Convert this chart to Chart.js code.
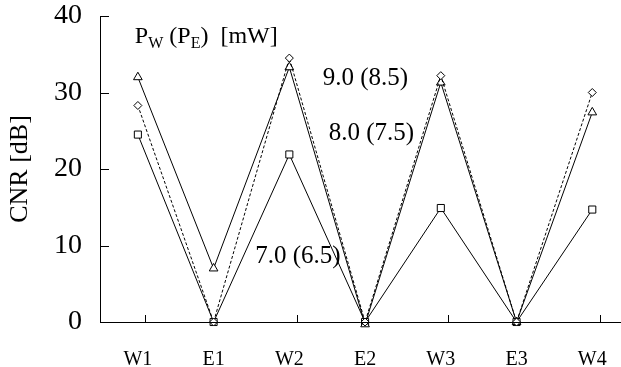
<!DOCTYPE html>
<html>
<head>
<meta charset="utf-8">
<script src="https://cdn.jsdelivr.net/npm/chart.js@4/dist/chart.umd.min.js"></script>
<style>
  html, body { margin: 0; padding: 0; background: #fff; }
  #wrap { width: 621px; height: 367px; position: relative; }
</style>
</head>
<body>
<div id="wrap"><canvas id="cnr-chart"></canvas></div>
<script>
// categories and series (CNR in dB)
var categories = ["W1", "E1", "W2", "E2", "W3", "E3", "W4"];
var cnr9 = [28.3, 0, 34.5, 0, 32.2, 0, 30.0];   // 9.0 (8.5) mW, diamonds, dashed
var cnr8 = [32.0, 7.0, 33.3, -0.3, 31.3, 0, 27.4]; // 8.0 (7.5) mW, triangles
var cnr7 = [24.5, 0, 21.9, 0, 14.9, 0, 14.7];   // 7.0 (6.5) mW, squares
var yTicks = [0, 10, 20, 30, 40];

var serif = "'Liberation Serif', 'Times New Roman', serif";

function toPoints(arr) {
    return arr.map(function (v, i) { return { x: i, y: v }; });
}

// text labels inside the plot, anchored in data units
var notes = [
    { x: 2.44, y: 31.0, text: "9.0 (8.5)" },
    { x: 2.52, y: 23.8, text: "8.0 (7.5)" },
    { x: 1.55, y: 7.7, text: "7.0 (6.5)" }
];

var extras = {
    id: "extras",
    afterDatasetsDraw: function (chart) {
        var c = chart.ctx, xs = chart.scales.x, ys = chart.scales.y;
        var x0 = xs.left, y0 = ys.getPixelForValue(0);
        c.save();
        c.strokeStyle = "#000";
        c.lineWidth = 1;
        // axis lines
        c.beginPath();
        c.moveTo(x0 + 0.5, ys.getPixelForValue(40));
        c.lineTo(x0 + 0.5, y0 + 0.5);
        c.lineTo(chart.width, y0 + 0.5);
        c.stroke();
        // inward ticks
        c.beginPath();
        yTicks.forEach(function (t) {
            var py = Math.round(ys.getPixelForValue(t)) + 0.5;
            c.moveTo(x0, py);
            c.lineTo(x0 + 9, py);
        });
        categories.forEach(function (lab, i) {
            if (lab.charAt(0) !== "W") return;
            var px = Math.round(xs.getPixelForValue(i + 0.1)) + 0.5;
            c.moveTo(px, y0);
            c.lineTo(px, y0 - 7);
        });
        c.stroke();

        c.fillStyle = "#000";
        c.textBaseline = "alphabetic";
        c.textAlign = "left";
        c.font = "25px " + serif;
        notes.forEach(function (n) {
            c.fillText(n.text, xs.getPixelForValue(n.x), ys.getPixelForValue(n.y));
        });

        // P_W (P_E) [mW]
        var px = xs.getPixelForValue(-0.04), py = ys.getPixelForValue(36.5);
        var big = "24px " + serif, small = "16px " + serif;
        var parts = [
            ["P", big, 0], ["W", small, 5], [" (P", big, 0], ["E", small, 5], [")  [mW]", big, 0]
        ];
        parts.forEach(function (p) {
            c.font = p[1];
            c.fillText(p[0], px, py + p[2]);
            px += c.measureText(p[0]).width;
        });
        c.restore();
    }
};

var ctx = document.getElementById("cnr-chart");

var chartData = {
    datasets: [{
        label: "9.0 (8.5)",
        data: toPoints(cnr9),
        borderColor: "#000",
        borderWidth: 1,
        borderDash: [3, 2],
        pointStyle: "rectRot",
        pointRadius: 4,
        pointBackgroundColor: "#fff",
        pointBorderColor: "#000",
        pointBorderWidth: 1,
        clip: false
    }, {
        label: "8.0 (7.5)",
        data: toPoints(cnr8),
        borderColor: "#000",
        borderWidth: 1,
        pointStyle: "triangle",
        pointRadius: 5,
        pointBackgroundColor: "#fff",
        pointBorderColor: "#000",
        pointBorderWidth: 1,
        clip: false
    }, {
        label: "7.0 (6.5)",
        data: toPoints(cnr7),
        borderColor: "#000",
        borderWidth: 1,
        pointStyle: "rect",
        pointRadius: 5,
        pointBackgroundColor: "#fff",
        pointBorderColor: "#000",
        pointBorderWidth: 1,
        clip: false
    }]
};

var chartOptions = {
    responsive: true,
    maintainAspectRatio: false,
    animation: false,
    layout: { padding: { top: 16, right: 0, left: 0, bottom: 0 } },
    plugins: { legend: { display: false }, tooltip: { enabled: false } },
    scales: {
        x: {
            type: "linear",
            min: -0.5,
            max: 6.3,
            grid: { display: false, drawTicks: false },
            border: { display: false },
            afterBuildTicks: function (axis) {
                axis.ticks = categories.map(function (c, i) { return { value: i }; });
            },
            afterFit: function (axis) {
                axis.height = 45;
                axis.paddingLeft = 0;
                axis.paddingRight = 0;
            },
            ticks: {
                autoSkip: false,
                maxRotation: 0,
                padding: 26,
                color: "#000",
                font: { family: serif, size: 20 },
                callback: function (v) { return categories[v]; }
            }
        },
        y: {
            min: 0,
            max: 40,
            grid: { display: false, drawTicks: false },
            border: { display: false },
            afterBuildTicks: function (axis) {
                axis.ticks = yTicks.map(function (v) { return { value: v }; });
            },
            afterFit: function (axis) {
                axis.width = 100;
                axis.paddingTop = 0;
                axis.paddingBottom = 0;
            },
            title: {
                display: true,
                text: "CNR [dB]",
                color: "#000",
                font: { family: serif, size: 26 },
                padding: { top: 5, bottom: 0 }
            },
            ticks: {
                padding: 18,
                color: "#000",
                font: { family: serif, size: 28 }
            }
        }
    }
};

var config = {
    type: "line",
    options: chartOptions,
    data: chartData,
    plugins: [extras]
};

var cnrChart = new Chart(ctx, config);
</script>
</body>
</html>
